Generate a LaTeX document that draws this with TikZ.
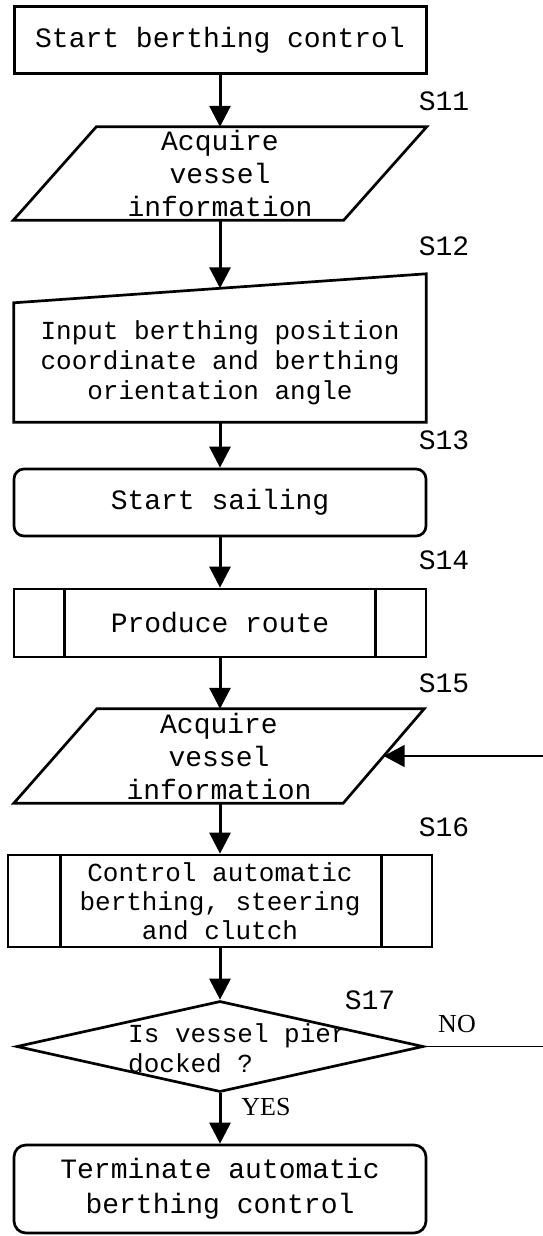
\documentclass[tikz,border=0pt]{standalone}
\usepackage{fontspec}
\setmainfont{Liberation Serif}
\newfontfamily\boxfont{Liberation Mono}
\usetikzlibrary{arrows.meta,shapes.geometric,calc}
\begin{document}
\begin{tikzpicture}[x=1pt,y=-1pt,
  outline/.style={draw=black,line width=2.7pt},
  bigtext/.style={font=\boxfont\fontsize{28}{33}\selectfont},
  smalltext/.style={font=\boxfont\fontsize{26}{30}\selectfont},
  box/.style={outline,inner sep=0pt,align=center,bigtext},
  plain/.style={inner sep=0pt,align=center,bigtext},
  flow/.style={line width=3pt,-{Triangle[length=21pt,width=21pt]}},
  back/.style={line width=1.8pt,-{Triangle[length=21pt,width=22pt]}},
  steplabel/.style={bigtext,inner sep=0pt},
  answer/.style={font=\fontsize{26}{30}\selectfont,inner sep=0pt}
]
\fill[white] (0,0) rectangle (543,1236);
\useasboundingbox (0,0) rectangle (543,1236);
\clip (0,0) rectangle (543,1236);

% start of the procedure
\node[box,line width=3pt,minimum width=412pt,minimum height=67pt] (start) at (220,40.5) {Start berthing control};

% S11: data input (parallelogram)
\node[plain,minimum width=413pt,minimum height=93pt] (acq1) at (220,173.5) {Acquire\\vessel\\information};
\draw[outline] ([xshift=83pt]acq1.north west) -- (acq1.north east)
  -- ([xshift=-83pt]acq1.south east) -- (acq1.south west) -- cycle;

% S12: manual input (slanted top)
\node[plain,smalltext,minimum width=412pt,minimum height=119pt] (inp) at (220,362.5)
  {Input berthing position\\coordinate and berthing\\orientation angle};
\draw[outline] (inp.north west) -- ([yshift=29pt]inp.north east)
  -- (inp.south east) -- (inp.south west) -- cycle;

% S13
\node[box,rounded corners=10pt,minimum width=412pt,minimum height=67pt] (sail) at (220,502.5) {Start sailing};

% S14: predefined process
\node[box,minimum width=412pt,minimum height=68pt] (route) at (220,623) {Produce route};
\draw[outline] ([xshift=52pt]route.north west) -- ([xshift=52pt]route.south west);
\draw[outline] ([xshift=-52pt]route.north east) -- ([xshift=-52pt]route.south east);

% S15: data input (parallelogram)
\node[plain,minimum width=410pt,minimum height=94pt] (acq2) at (219,756) {Acquire\\vessel\\information};
\draw[outline] ([xshift=83pt]acq2.north west) -- (acq2.north east)
  -- ([xshift=-81pt]acq2.south east) -- (acq2.south west) -- cycle;

% S16: predefined process
\node[box,smalltext,font=\boxfont\fontsize{26}{29}\selectfont,minimum width=424pt,minimum height=92pt] (ctrl) at (220,901)
  {Control automatic\\berthing, steering\\and clutch};
\draw[outline] ([xshift=54pt]ctrl.north west) -- ([xshift=54pt]ctrl.south west);
\draw[outline] ([xshift=-52pt]ctrl.north east) -- ([xshift=-52pt]ctrl.south east);

% S17: decision
\node[diamond,outline,inner sep=0pt,minimum width=407pt,minimum height=91pt] (dec) at (220,1046.5) {};
\node[smalltext,align=left,anchor=west,inner sep=0pt] (question) at (128,1048) {Is vessel pier\\docked ?};

% end of the procedure
\node[box,rounded corners=12pt,font=\boxfont\fontsize{28}{35}\selectfont,minimum width=412pt,minimum height=88pt] (term) at (220,1189)
  {Terminate automatic\\berthing control};

% step labels
\node[steplabel] (s11) at (444,101) {S11};
\node[steplabel] (s12) at (444,246) {S12};
\node[steplabel] (s13) at (444,440) {S13};
\node[steplabel] (s14) at (444,560) {S14};
\node[steplabel] (s15) at (444,683) {S15};
\node[steplabel] (s16) at (444,827) {S16};
\node[steplabel] (s17) at (370,1000) {S17};
\node[answer] (no) at (457,1024) {NO};
\node[answer] (yes) at (266,1107) {YES};

% connectors
\draw[flow] (start.south) -- (acq1.north);
\draw[flow] (acq1.south) -- ([yshift=14.5pt]inp.north);
\draw[flow] (inp.south) -- (sail.north);
\draw[flow] (sail.south) -- (route.north);
\draw[flow] (route.south) -- (route.south |- acq2.north);
\draw[flow] (route.south |- acq2.south) -- (ctrl.north);
\draw[flow] (ctrl.south) -- (dec.north);
\draw[flow] (dec.south) -- (term.north);
\draw[back] (dec.east) -- ++(126,0) |- ([xshift=-40.5pt]acq2.east);
\end{tikzpicture}
\end{document}
